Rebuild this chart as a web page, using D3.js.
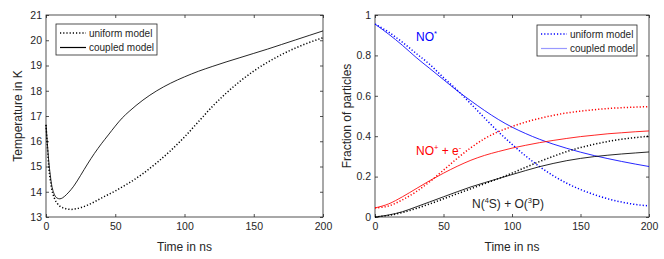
<!DOCTYPE html>
<html>
<head>
<meta charset="UTF-8">
<script src="https://cdnjs.cloudflare.com/ajax/libs/d3/7.8.5/d3.min.js"></script>
<style>
body { margin:0; background:#fff; }
text { font-family:"Liberation Sans", Arial, sans-serif; fill:#262626; }
.tick text { font-size:10.5px; }
.lbl { font-size:12px; }
.leg { font-size:10px; }
</style>
</head>
<body>
<div id="chart"></div>
<script>
// left panel: temperature
var tLeft = [0,1,2,3,4,6,8,10,12,15,18,20,25,30,35,40,45,50,55,60,70,80,90,100,110,120,130,140,150,160,170,180,190,200];
var tempUniform = [16.65,15.8,15.0,14.5,14.15,13.75,13.55,13.43,13.37,13.32,13.3,13.31,13.37,13.47,13.6,13.75,13.89,14.03,14.19,14.35,14.72,15.15,15.63,16.17,16.77,17.37,17.9,18.37,18.78,19.13,19.43,19.69,19.91,20.1];
var tempCoupled = [16.65,15.9,15.2,14.7,14.3,13.9,13.75,13.72,13.76,13.9,14.08,14.22,14.65,15.1,15.52,15.9,16.25,16.6,16.92,17.18,17.63,18.0,18.3,18.55,18.77,18.96,19.14,19.31,19.48,19.65,19.83,20.01,20.19,20.37];

// right panel: fractions
var tRight = [0,10,20,30,40,50,60,70,80,90,100,110,120,130,140,150,160,170,180,190,200];
var noStarUniform = [0.955,0.915,0.865,0.81,0.755,0.69,0.628,0.56,0.49,0.422,0.36,0.302,0.25,0.205,0.167,0.136,0.111,0.09,0.074,0.062,0.055];
var noStarCoupled = [0.955,0.905,0.85,0.79,0.735,0.68,0.625,0.575,0.527,0.483,0.445,0.413,0.385,0.361,0.34,0.321,0.304,0.289,0.275,0.262,0.25];
var ionUniform = [0.045,0.055,0.085,0.125,0.175,0.232,0.29,0.343,0.388,0.422,0.448,0.47,0.488,0.503,0.515,0.524,0.531,0.537,0.541,0.544,0.546];
var ionCoupled = [0.045,0.065,0.1,0.14,0.18,0.217,0.251,0.281,0.305,0.324,0.341,0.355,0.368,0.379,0.389,0.398,0.405,0.412,0.417,0.422,0.426];
var atomUniform = [0,0.008,0.022,0.042,0.065,0.09,0.115,0.14,0.165,0.19,0.217,0.246,0.274,0.3,0.324,0.344,0.36,0.374,0.385,0.393,0.4];
var atomCoupled = [0,0.01,0.026,0.05,0.075,0.1,0.125,0.149,0.17,0.19,0.21,0.23,0.249,0.265,0.279,0.29,0.299,0.306,0.312,0.317,0.322];

var xTicks = [0,50,100,150,200];
var tempTicks = [13,14,15,16,17,18,19,20,21];
var fracTicks = [0,0.2,0.4,0.6,0.8,1];
var legendNames = ["uniform model","coupled model"];

var svg = d3.select("#chart").append("svg").attr("width",664).attr("height",259);

function panel(x0,x1,y0,y1,ydom,yticks,yfmt,ylabel){
  var x = d3.scaleLinear().domain([0,200]).range([x0,x1]);
  var y = d3.scaleLinear().domain(ydom).range([y1,y0]);
  var g = svg.append("g");
  g.append("rect").attr("x",x0).attr("y",y0).attr("width",x1-x0).attr("height",y1-y0)
    .attr("fill","none").attr("stroke","#262626").attr("stroke-width",0.8);
  var tk = 3;
  g.append("g").attr("transform","translate(0,"+y1+")")
    .call(d3.axisBottom(x).tickValues(xTicks).tickSize(-tk).tickPadding(6).tickFormat(d3.format("d")));
  g.append("g").attr("transform","translate(0,"+y0+")")
    .call(d3.axisTop(x).tickValues(xTicks).tickSize(-tk).tickFormat(""));
  g.append("g").attr("transform","translate("+x0+",0)")
    .call(d3.axisLeft(y).tickValues(yticks).tickSize(-tk).tickPadding(4).tickFormat(yfmt));
  g.append("g").attr("transform","translate("+x1+",0)")
    .call(d3.axisRight(y).tickValues(yticks).tickSize(-tk).tickFormat(""));
  g.selectAll(".domain").remove();
  g.selectAll(".tick line").attr("stroke","#262626").attr("stroke-width",0.8);
  g.selectAll(".tick text").attr("fill","#262626");
  g.append("text").attr("class","lbl").attr("x",(x0+x1)/2).attr("y",251)
    .attr("text-anchor","middle").text("Time in ns");
  g.append("text").attr("class","lbl").attr("transform","translate("+(x0-24)+","+((y0+y1)/2)+") rotate(-90)")
    .attr("text-anchor","middle").text(ylabel);
  return {x:x,y:y,g:g};
}

function curve(p,ts,vals,color,dotted){
  var line = d3.line().x(function(d,i){return p.x(ts[i]);}).y(function(d){return p.y(d);}).curve(d3.curveMonotoneX);
  var path = p.g.append("path").datum(vals).attr("d",line).attr("fill","none").attr("stroke",color);
  if (dotted) path.attr("stroke-width",1.5).attr("stroke-dasharray","1.2,2");
  else path.attr("stroke-width",0.85);
}

function legend(g,x,y,w,color,lightColor){
  g.append("rect").attr("x",x).attr("y",y).attr("width",w).attr("height",31)
    .attr("fill","#fff").attr("stroke","#262626").attr("stroke-width",0.8);
  legendNames.forEach(function(n,i){
    var yy = y+9+i*14.5;
    var ln = g.append("line").attr("x1",x+4).attr("x2",x+30).attr("y1",yy).attr("y2",yy);
    if (i==0) ln.attr("stroke",color).attr("stroke-width",1.5).attr("stroke-dasharray","1.2,2");
    else ln.attr("stroke",lightColor).attr("stroke-width",1.2);
    g.append("text").attr("class","leg").attr("x",x+33).attr("y",yy+3.5).text(n);
  });
}

var L = panel(46,323,15,217,[13,21],tempTicks,d3.format("d"),"Temperature in K");
curve(L,tLeft,tempUniform,"#000",true);
curve(L,tLeft,tempCoupled,"#000",false);
legend(L.g,56,24,101,"#000","#000");

var R = panel(375,649,15,217,[0,1],fracTicks,function(d){return d==0||d==1?d3.format("d")(d):d3.format(".1f")(d);},"Fraction of particles");
curve(R,tRight,noStarUniform,"#0000ff",true);
curve(R,tRight,noStarCoupled,"#0000ff",false);
curve(R,tRight,ionUniform,"#ff0000",true);
curve(R,tRight,ionCoupled,"#ff0000",false);
curve(R,tRight,atomUniform,"#000",true);
curve(R,tRight,atomCoupled,"#000",false);
legend(R.g,537,25,100,"#0000ff","#9999ff");

var t1 = R.g.append("text").attr("class","lbl").attr("x",416).attr("y",41).style("fill","#0000ff");
t1.append("tspan").text("NO");
t1.append("tspan").attr("dy",-5).style("font-size","7.5px").text("*");
var t2 = R.g.append("text").attr("class","lbl").attr("x",416).attr("y",155).style("fill","#ff0000");
t2.append("tspan").text("NO");
t2.append("tspan").attr("dy",-5).style("font-size","7.5px").text("+");
t2.append("tspan").attr("dy",5).text(" + e");
t2.append("tspan").attr("dy",-5).style("font-size","7.5px").text("-");
var t3 = R.g.append("text").attr("class","lbl").attr("x",472).attr("y",208);
t3.append("tspan").text("N(");
t3.append("tspan").attr("dy",-5).style("font-size","7.5px").text("4");
t3.append("tspan").attr("dy",5).text("S) + O(");
t3.append("tspan").attr("dy",-5).style("font-size","7.5px").text("3");
t3.append("tspan").attr("dy",5).text("P)");
</script>
</body>
</html>
